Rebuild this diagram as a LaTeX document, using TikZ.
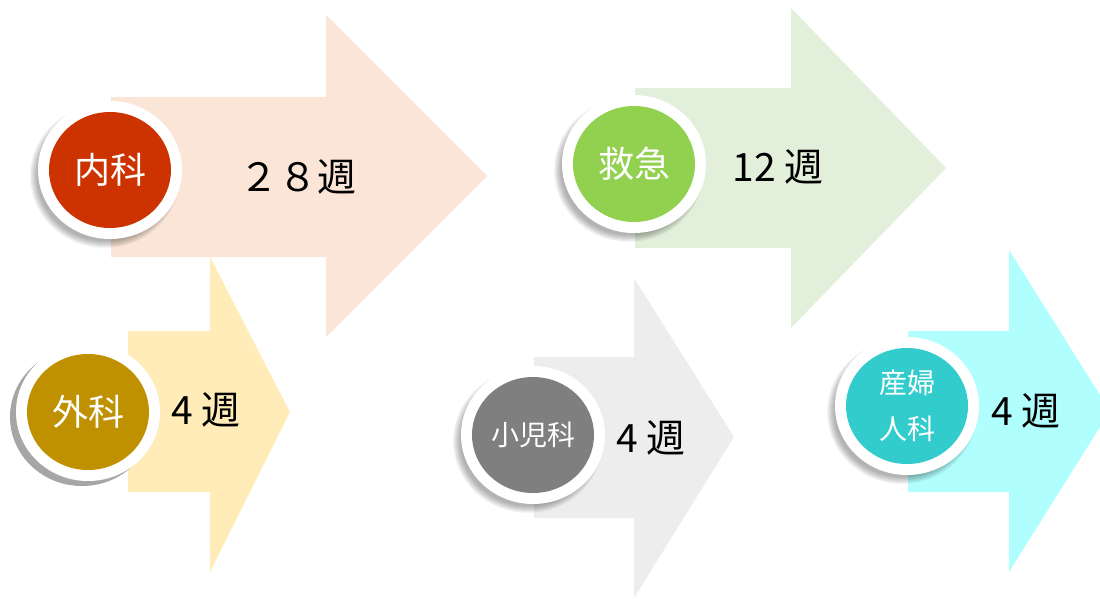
\documentclass[tikz,border=0pt]{standalone}
\usepackage{fontspec}
\setmainfont{Noto Sans CJK JP}
\usetikzlibrary{shapes.geometric,calc}
\definecolor{arrPink}{HTML}{FBE5D6}
\definecolor{arrGreen}{HTML}{E2EFDA}
\definecolor{arrYellow}{HTML}{FFECB8}
\definecolor{arrGrey}{HTML}{EDEDED}
\definecolor{arrCyan}{HTML}{B0FFFE}
\definecolor{discRed}{HTML}{CC3300}
\definecolor{discGreen}{HTML}{92D050}
\definecolor{discGold}{HTML}{BF9000}
\definecolor{discGrey}{HTML}{7F7F7F}
\definecolor{discTeal}{HTML}{33CCCC}
\definecolor{ringGrey}{HTML}{A6A6A6}
\tikzset{
  ringnode/.style={ellipse, fill=white, minimum width=144pt, minimum height=138pt, inner sep=0pt},
  discnode/.style={ellipse, minimum width=122pt, minimum height=116pt, inner sep=0pt,
    text=white, align=center, font=\fontsize{36}{40}\selectfont},
  smalldisc/.style={discnode, font=\fontsize{28}{46}\selectfont},
  weeks/.style={inner sep=0pt, text=black, font=\fontsize{39}{44}\selectfont},
  shadowlayer/.style={fill=black, opacity=0.045}
}
\newcommand{\softshadow}[1]{%
  \foreach \k in {0,...,7}{%
    \fill[shadowlayer] ($(#1)+(-5,6)$) ellipse [x radius={(75-\k)*1pt}, y radius={(72-\k)*1pt}];%
  }%
}
\begin{document}
\begin{tikzpicture}[x=1pt,y=-1pt]
\useasboundingbox (0,0) rectangle (1100,598);
\clip (0,0) rectangle (1100,598);
% arrows
\fill[arrPink] (111,97) -- (326,97) -- (326,15) -- (487,176) -- (326,337) -- (326,257) -- (111,257) -- cycle;
\fill[arrGreen] (635,88) -- (791,88) -- (791,8) -- (946,168) -- (791,328) -- (791,248) -- (635,248) -- cycle;
\fill[arrYellow] (128,331) -- (210,331) -- (210,257) -- (290,412) -- (210,572) -- (210,492) -- (128,492) -- cycle;
\fill[arrGrey] (534,357) -- (634,357) -- (634,278) -- (734,437) -- (634,598) -- (634,518) -- (534,518) -- cycle;
\fill[arrCyan] (908,331) -- (1009,331) -- (1009,250) -- (1110,411) -- (1009,572) -- (1009,492) -- (908,492) -- cycle;
% week labels
\node[weeks] (w1) at (298,177) {２８週};
\node[weeks] (w2) at (778,167) {12 週};
\node[weeks] (w3) at (206,410) {4 週};
\node[weeks] (w4) at (651,438) {4 週};
\node[weeks] (w5) at (1026,411) {4 週};
% circles
\coordinate (c1) at (110,170);
\coordinate (c2) at (634,164);
\coordinate (c3) at (88,412);
\coordinate (c4) at (533,435);
\coordinate (c5) at (907,406);
\softshadow{c1}
\node[ringnode] (r1) at (c1) {};
\node[discnode, fill=discRed] (d1) at (c1) {内科};
\softshadow{c2}
\node[ringnode] (r2) at (c2) {};
\node[discnode, fill=discGreen] (d2) at (c2) {救急};
\node[ringnode, fill=ringGrey] (g3) at ($(c3)+(-6,5)$) {};
\node[ringnode] (r3) at (c3) {};
\node[discnode, fill=discGold] (d3) at (c3) {外科};
\softshadow{c4}
\node[ringnode] (r4) at (c4) {};
\node[smalldisc, fill=discGrey] (d4) at (c4) {小児科};
\softshadow{c5}
\node[ringnode] (r5) at (c5) {};
\node[smalldisc, fill=discTeal] (d5) at (c5) {産婦\\人科};
\end{tikzpicture}
\end{document}
